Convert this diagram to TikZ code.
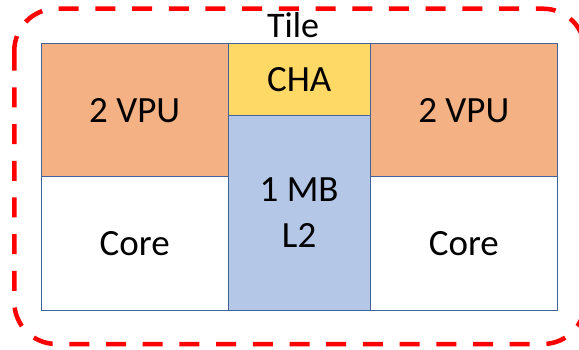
\documentclass[tikz,border=0pt]{standalone}
\usepackage{fontspec}
\setmainfont{Carlito}
\definecolor{vpu}{HTML}{F4B183}
\definecolor{cha}{HTML}{FFD966}
\definecolor{ltwo}{HTML}{B4C7E7}
\definecolor{edge}{HTML}{41639A}
\definecolor{tilered}{HTML}{FF0000}
\begin{document}
\begin{tikzpicture}[x=1pt,y=-1pt,
  cell/.style={draw=edge,line width=1pt,inner sep=0pt,font=\fontsize{37}{46}\selectfont,align=center},
  tileborder/.style={draw=tilered,line width=4.5pt,dash pattern=on 20pt off 16.7pt,rounded corners=42pt}]
\useasboundingbox (0,0) rectangle (579,350);
\draw[tileborder] (14.3,8.7) rectangle (585,344);
\node[font=\fontsize{36}{40}\selectfont,anchor=base] (tile) at (293,38) {Tile};
\node[cell,fill=vpu,minimum width=187pt,minimum height=132.7pt] (vpuL) at (134.65,110.35) {2 VPU};
\node[cell,fill=white,minimum width=187pt,minimum height=133.3pt] (coreL) at (134.65,243.35) {Core};
\node[cell,fill=cha,minimum width=141.7pt,minimum height=72pt] (cha) at (299.15,80) {CHA};
\node[cell,fill=ltwo,minimum width=141.7pt,minimum height=194pt] (l2) at (299.15,213) {1 MB\\L2};
\node[cell,fill=vpu,minimum width=187.7pt,minimum height=132.7pt] (vpuR) at (463.85,110.35) {2 VPU};
\node[cell,fill=white,minimum width=187.7pt,minimum height=133.3pt] (coreR) at (463.85,243.35) {Core};
\end{tikzpicture}
\end{document}
